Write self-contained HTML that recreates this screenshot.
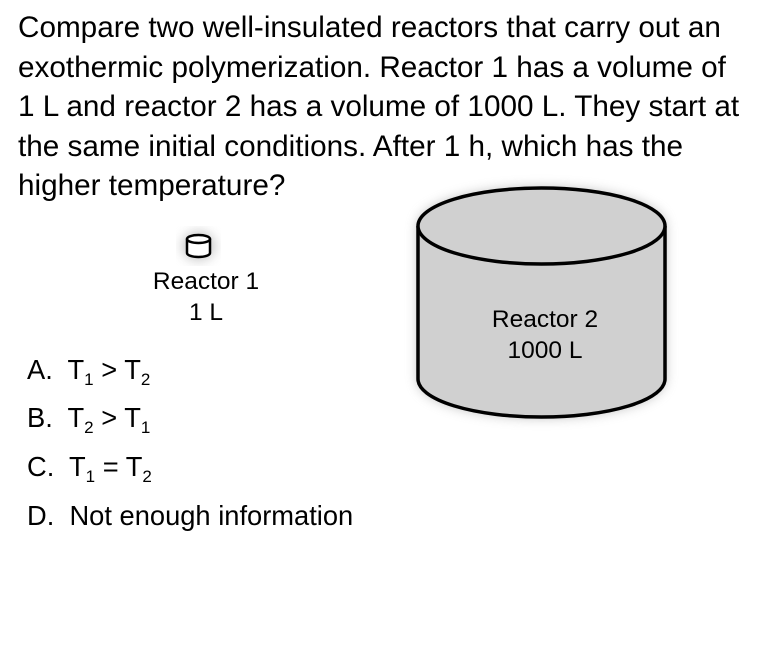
<!DOCTYPE html>
<html><head><meta charset="utf-8"><style>
body{margin:0;width:768px;height:654px;background:#fff;font-family:"Liberation Sans",Arial,sans-serif;color:#000;position:relative;overflow:hidden}
.q{position:absolute;left:18px;top:8px;font-size:29.7px;line-height:39.5px;width:760px;white-space:nowrap}
.a{position:absolute;left:27px;font-size:27.3px}
sub{font-size:17px;vertical-align:-6px;line-height:0}
.lbl{position:absolute;text-align:center;font-size:24.5px;line-height:31px}
</style></head><body>
<div class="q">Compare two well-insulated reactors that carry out an<br>exothermic polymerization. Reactor 1 has a volume of<br>1 L and reactor 2 has a volume of 1000 L. They start at<br>the same initial conditions. After 1 h, which has the<br>higher temperature?</div>
<svg width="768" height="654" style="position:absolute;left:0;top:0">
<defs><filter id="s" x="-20%" y="-20%" width="140%" height="140%"><feGaussianBlur stdDeviation="6"/></filter></defs>
<path d="M418,226 L418,379 A123.5,38 0 0 0 665,379 L665,226 A123.5,38 0 0 0 418,226Z" fill="#888" filter="url(#s)" opacity="0.6"/>
<path d="M418,226 L418,379 A123.5,38 0 0 0 665,379 L665,226" fill="#d0d0d0" stroke="#000" stroke-width="3.5"/>
<ellipse cx="541.5" cy="226" rx="123.5" ry="38" fill="#d0d0d0" stroke="#000" stroke-width="3.5"/>
<ellipse cx="198.5" cy="246" rx="16" ry="14" fill="#999" filter="url(#s)" opacity="0.6"/>
<path d="M187,239 L187,253 A11.5,4 0 0 0 210,253 L210,239" fill="#fff" stroke="#000" stroke-width="2.5"/>
<ellipse cx="198.5" cy="239" rx="11.5" ry="4" fill="#fff" stroke="#000" stroke-width="2.5"/>
</svg>
<div class="lbl" style="left:131px;top:266px;width:150px">Reactor 1<br>1 L</div>
<div class="lbl" style="left:470px;top:304px;width:150px">Reactor 2<br>1000 L</div>
<div class="a" style="top:354px">A.&nbsp; T<sub>1</sub> &gt; T<sub>2</sub></div>
<div class="a" style="top:402px">B.&nbsp; T<sub>2</sub> &gt; T<sub>1</sub></div>
<div class="a" style="top:451px">C.&nbsp; T<sub>1</sub> = T<sub>2</sub></div>
<div class="a" style="top:500px">D.&nbsp; Not enough information</div>
</body></html>
